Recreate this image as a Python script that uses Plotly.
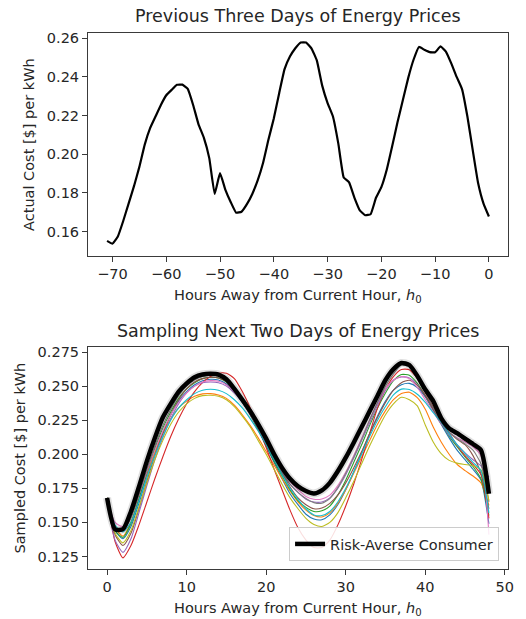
import plotly.graph_objects as go

# ---------------- data ----------------
hours_past = list(range(-71, 1))
price_past = [
    0.1552, 0.1538, 0.1575, 0.1655, 0.1745, 0.1835, 0.1935, 0.2050, 0.2135, 0.2195,
    0.2255, 0.2305, 0.2333, 0.2359, 0.2360, 0.2338, 0.2255, 0.2155, 0.2085, 0.1980,
    0.1795, 0.1902, 0.1816, 0.1752, 0.1698, 0.1703, 0.1742, 0.1795, 0.1865, 0.1955,
    0.2075, 0.2185, 0.2316, 0.2440, 0.2505, 0.2548, 0.2578, 0.2578, 0.2548, 0.2485,
    0.2355, 0.2265, 0.2195, 0.2055, 0.1880, 0.1855, 0.1775, 0.1710, 0.1685, 0.1690,
    0.1775, 0.1830, 0.1920, 0.2040, 0.2165, 0.2280, 0.2395, 0.2490, 0.2555, 0.2540,
    0.2528, 0.2527, 0.2558, 0.2531, 0.2470, 0.2400, 0.2337, 0.2195, 0.2020, 0.1850,
    0.1745, 0.1678,
]

hours_future = list(range(0, 49))
risk_averse = [.168, .145, .145, .158, .176, .195, .212, .227, .237, .246, .252, .2565, .2585, .259, .2585,
               .255, .248, .240, .2315, .222, .2115, .200, .190, .182, .1765, .173, .1712, .1735, .179,
               .1875, .1975, .2085, .220, .2315, .243, .2545, .2625, .267, .2655, .2575, .2475, .239,
               .2265, .219, .2155, .2115, .2075, .203, .171]

sample_blue = [.168, .144, .138, .147, .164, .183, .201, .216, .229, .239, .246, .251, .254, .255, .2545,
               .2515, .246, .238, .229, .218, .206, .194, .182, .171, .163, .156, .1525, .152, .1555,
               .163, .174, .187, .201, .215, .228, .239, .247, .251, .252, .249, .242, .232, .222,
               .212, .203, .196, .189, .181, .149]
sample_orange = [.168, .146, .140, .150, .167, .185, .201, .215, .226, .234, .239, .2425, .2443, .2445,
                 .2435, .241, .236, .229, .221, .212, .202, .192, .182, .173, .165, .159, .155, .154,
                 .157, .164, .174, .186, .198, .210, .222, .232, .240, .2445, .2455, .2415, .233,
                 .220, .209, .200, .1925, .188, .184, .179, .1625]
sample_green = [.168, .144, .139, .149, .167, .186, .204, .219, .231, .241, .248, .2525, .2555, .2565,
                .256, .253, .247, .239, .229, .218, .207, .195, .184, .174, .166, .161, .158, .1585,
                .162, .170, .181, .194, .207, .221, .234, .245, .254, .2585, .258, .252, .243, .233,
                .223, .2135, .2055, .198, .191, .182, .155]
sample_red = [.168, .136, .124, .133, .148, .165, .182, .198, .213, .226, .237, .246, .2525, .257, .2595,
              .2595, .2555, .246, .234, .220, .205, .189, .174, .159, .146, .137, .1315, .1315, .137,
              .148, .162, .178, .196, .215, .234, .2475, .257, .2622, .262, .2555, .2455, .2348,
              .225, .2155, .2065, .199, .1925, .185, .153]
sample_purple = [.168, .137, .128, .138, .157, .177, .196, .212, .226, .237, .245, .250, .2525, .253,
                 .2525, .250, .245, .238, .229, .219, .208, .197, .187, .178, .172, .167, .165, .165,
                 .168, .175, .185, .197, .210, .223, .236, .247, .2545, .2567, .256, .251, .243, .233,
                 .223, .214, .207, .201, .196, .1915, .183]
sample_brown = [.168, .141, .133, .142, .160, .180, .199, .215, .229, .240, .248, .253, .2555, .2565,
                .256, .2535, .248, .240, .231, .220, .209, .197, .186, .176, .168, .163, .160, .1605,
                .164, .170, .179, .190, .202, .215, .227, .238, .247, .2525, .2543, .2505, .243, .233,
                .2235, .216, .211, .207, .199, .186, .160]
sample_pink = [.168, .150, .147, .155, .170, .187, .203, .217, .229, .238, .245, .250, .253, .254, .2535,
               .251, .246, .239, .230, .220, .209, .198, .188, .180, .174, .169, .167, .1672, .170,
               .177, .187, .199, .212, .225, .238, .248, .2545, .257, .2555, .249, .240, .231, .2225,
               .216, .212, .209, .2055, .199, .141]
sample_gray = [.168, .146, .144, .153, .170, .189, .206, .221, .233, .243, .250, .2545, .257, .258, .2575,
               .2545, .248, .2395, .230, .2195, .2085, .197, .1865, .178, .172, .1675, .1645, .164,
               .1675, .1755, .186, .198, .211, .225, .238, .250, .259, .2655, .2645, .2565, .246, .234,
               .2235, .216, .2115, .2075, .203, .193, .165]
sample_olive = [.168, .142, .135, .144, .161, .179, .196, .210, .222, .231, .237, .241, .243, .2433,
                .2425, .240, .235, .228, .220, .210, .200, .189, .178, .168, .160, .153, .1485, .147,
                .150, .157, .168, .180, .193, .206, .218, .229, .237, .2418, .240, .2355, .2215, .209,
                .2005, .1955, .1935, .1925, .1915, .1885, .166]
sample_cyan = [.168, .148, .143, .150, .166, .183, .199, .213, .225, .234, .240, .2445, .247, .2477, .247,
               .2445, .240, .234, .226, .217, .207, .196, .185, .175, .167, .160, .1555, .155, .158,
               .165, .175, .187, .200, .213, .225, .235, .2435, .2478, .2475, .244, .238, .2305,
               .2235, .215, .207, .2005, .194, .188, .157]

samples = [
    ("#1f77b4", sample_blue), ("#ff7f0e", sample_orange), ("#2ca02c", sample_green),
    ("#d62728", sample_red), ("#9467bd", sample_purple), ("#8c564b", sample_brown),
    ("#e377c2", sample_pink), ("#7f7f7f", sample_gray), ("#bcbd22", sample_olive),
    ("#17becf", sample_cyan),
]

top_title = "Previous Three Days of Energy Prices"
bottom_title = "Sampling Next Two Days of Energy Prices"
x_title = "Hours Away from Current Hour, <i>h</i><sub>0</sub>"
top_y_title = "Actual Cost [$] per kWh"
bottom_y_title = "Sampled Cost [$] per kWh"
legend_label = "Risk-Averse Consumer"

# ---------------- figure ----------------
FONT = "DejaVu Sans"
TXT = "#262626"
W, H = 526, 619
ML, MR, MT, MB = 88, 15, 33, 50
plot_h = H - MT - MB
plot_w = W - ML - MR


def py(ypx):
    return (H - MB - ypx) / plot_h


def px(xpx):
    return (xpx - ML) / plot_w


fig = go.Figure()

fig.add_trace(go.Scatter(x=hours_past, y=price_past, mode="lines",
                         line=dict(color="black", width=2.2, shape="spline", smoothing=0.35),
                         showlegend=False, xaxis="x", yaxis="y"))

for color, vals in samples:
    fig.add_trace(go.Scatter(x=hours_future, y=vals, mode="lines",
                             line=dict(color=color, width=1.1, shape="spline", smoothing=0.6),
                             showlegend=False, xaxis="x2", yaxis="y2"))

fig.add_trace(go.Scatter(x=hours_future, y=risk_averse, mode="lines",
                         line=dict(color="black", width=8, shape="spline", smoothing=0.6),
                         opacity=0.12, showlegend=False,
                         xaxis="x2", yaxis="y2", hoverinfo="skip"))
fig.add_trace(go.Scatter(x=hours_future, y=risk_averse, mode="lines", name=legend_label,
                         line=dict(color="black", width=4.5, shape="spline", smoothing=0.6),
                         showlegend=True, xaxis="x2", yaxis="y2"))

axis_common = dict(showline=True, mirror=True, linecolor="#3a3a3a", linewidth=1,
                   ticks="outside", ticklen=5, tickwidth=1.1, tickcolor="#3a3a3a",
                   showgrid=False, zeroline=False,
                   tickfont=dict(family=FONT, size=14.5, color=TXT))

fig.update_layout(
    width=W, height=H,
    margin=dict(l=ML, r=MR, t=MT, b=MB),
    paper_bgcolor="white", plot_bgcolor="white",
    font=dict(family=FONT, color=TXT),
    xaxis=dict(domain=[0, 1], anchor="y", range=[-74.55, 3.55], tickmode="linear",
               tick0=-70, dtick=10, **axis_common),
    yaxis=dict(domain=[py(256), 1], anchor="x", range=[0.1474, 0.2627], tickmode="linear",
               tick0=0.16, dtick=0.02, tickformat=".2f", **axis_common),
    xaxis2=dict(domain=[0, 1], anchor="y2", range=[-2.4, 50.4], tickmode="linear",
                tick0=0, dtick=10, **axis_common),
    yaxis2=dict(domain=[0, py(347)], anchor="x2", range=[0.1158, 0.2787], tickmode="linear",
                tick0=0.125, dtick=0.025, tickformat=".3f", **axis_common),
    legend=dict(x=px(502), y=py(561), xanchor="right", yanchor="bottom",
                bgcolor="rgba(255,255,255,0.85)", bordercolor="#cccccc", borderwidth=1,
                font=dict(family=FONT, size=14.5, color=TXT), itemwidth=30),
    showlegend=True,
)

ann = dict(showarrow=False, xref="paper", yref="paper")
fig.add_annotation(text=top_title, x=0.5, y=py(16), xanchor="center", yanchor="middle",
                   font=dict(family=FONT, size=17.5, color=TXT), **ann)
fig.add_annotation(text=bottom_title, x=0.5, y=py(331), xanchor="center", yanchor="middle",
                   font=dict(family=FONT, size=17.5, color=TXT), **ann)
fig.add_annotation(text=x_title, x=0.5, y=py(296), xanchor="center", yanchor="middle",
                   font=dict(family=FONT, size=14.5, color=TXT), **ann)
fig.add_annotation(text=x_title, x=0.5, y=py(609), xanchor="center", yanchor="middle",
                   font=dict(family=FONT, size=14.5, color=TXT), **ann)
fig.add_annotation(text=top_y_title, x=px(28), y=py(144.5), xanchor="center", yanchor="middle",
                   textangle=-90, font=dict(family=FONT, size=14.5, color=TXT), **ann)
fig.add_annotation(text=bottom_y_title, x=px(20), y=py(458), xanchor="center", yanchor="middle",
                   textangle=-90, font=dict(family=FONT, size=14.5, color=TXT), **ann)

fig.write_html("out.html")
